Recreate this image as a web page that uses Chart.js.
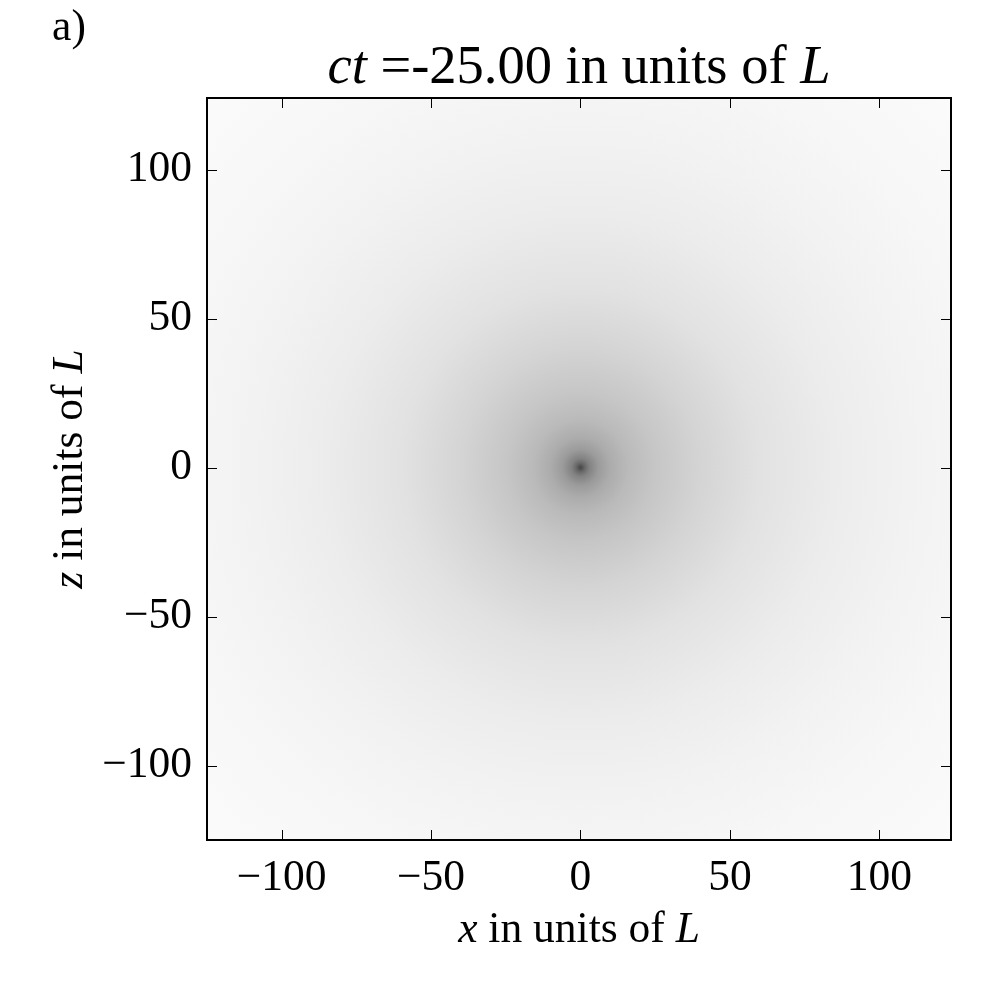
<!DOCTYPE html>
<html>
<head>
<meta charset="utf-8">
<script src="https://cdn.jsdelivr.net/npm/chart.js@4/dist/chart.umd.min.js"></script>
<style>
  html, body { margin: 0; padding: 0; background: #fff; }
</style>
</head>
<body>
<canvas id="field" width="1000" height="1000"></canvas>
<script>
// axis range and tick positions (units of L)
const axisMin = -125;
const axisMax = 124;
const tickValues = [-100, -50, 0, 50, 100];

// radial profile of the field:
// distance from the origin (units of L) and the gray level seen there
const ringRadius = [0, 0.7, 1.5, 3, 6, 10, 16, 25, 40, 60, 85, 110, 140, 180];
const ringGray   = [70, 85, 105, 130, 155, 172, 186, 198, 212, 226, 236, 242, 247, 251];
const fieldCenter = [0, 0];

const serif = '"Liberation Serif", "Times New Roman", serif';
const tickSize = 43.5;
const titleSize = 54.5;

// draw a line made of several font runs (regular / italic)
function drawRuns(ctx, runs, x, y, size) {
  let total = 0;
  runs.forEach(r => {
    ctx.font = (r[1] ? 'italic ' : '') + size + 'px ' + serif;
    total += ctx.measureText(r[0]).width;
  });
  let cx = x - total / 2;
  ctx.textAlign = 'left';
  ctx.textBaseline = 'alphabetic';
  runs.forEach(r => {
    ctx.font = (r[1] ? 'italic ' : '') + size + 'px ' + serif;
    ctx.fillText(r[0], cx, y);
    cx += ctx.measureText(r[0]).width;
  });
}

const fieldPlugin = {
  id: 'field',
  beforeDatasetsDraw(chart) {
    const { ctx, chartArea: a, scales } = chart;
    const cx = scales.x.getPixelForValue(fieldCenter[0]);
    const cy = scales.y.getPixelForValue(fieldCenter[1]);
    const rMax = ringRadius[ringRadius.length - 1];
    const rPx = scales.x.getPixelForValue(fieldCenter[0] + rMax) - cx;
    const g = ctx.createRadialGradient(cx, cy, 0, cx, cy, rPx);
    ringRadius.forEach((r, i) => {
      const v = ringGray[i];
      g.addColorStop(r / rMax, `rgb(${v},${v},${v})`);
    });
    ctx.save();
    ctx.beginPath();
    ctx.rect(a.left, a.top, a.right - a.left, a.bottom - a.top);
    ctx.clip();
    ctx.fillStyle = g;
    ctx.fillRect(a.left, a.top, a.right - a.left, a.bottom - a.top);
    ctx.restore();
  }
};

const framePlugin = {
  id: 'frame',
  afterDraw(chart) {
    const { ctx, chartArea: a, scales } = chart;
    ctx.save();
    // inward ticks on all four sides
    ctx.strokeStyle = '#000';
    ctx.lineWidth = 1;
    ctx.beginPath();
    tickValues.forEach(v => {
      const px = Math.round(scales.x.getPixelForValue(v)) + 0.5;
      ctx.moveTo(px, a.bottom); ctx.lineTo(px, a.bottom - 10);
      ctx.moveTo(px, a.top); ctx.lineTo(px, a.top + 10);
      const py = Math.round(scales.y.getPixelForValue(v)) + 0.5;
      ctx.moveTo(a.left, py); ctx.lineTo(a.left + 10, py);
      ctx.moveTo(a.right, py); ctx.lineTo(a.right - 10, py);
    });
    ctx.stroke();
    // frame
    ctx.lineWidth = 2;
    ctx.strokeRect(a.left, a.top, a.right - a.left, a.bottom - a.top);

    ctx.fillStyle = '#000';
    // panel letter
    drawRuns(ctx, [['a)', false]], 69, 40, tickSize);
    // title
    drawRuns(ctx, [['ct', true], [' =-25.00 in units of ', false], ['L', true]],
      (a.left + a.right) / 2, 83, titleSize);
    // x axis title
    drawRuns(ctx, [['x', true], [' in units of ', false], ['L', true]],
      (a.left + a.right) / 2, 942, tickSize);
    // y axis title
    ctx.translate(82, (a.top + a.bottom) / 2);
    ctx.rotate(-Math.PI / 2);
    drawRuns(ctx, [['z', true], [' in units of ', false], ['L', true]], 0, 0, tickSize);
    ctx.restore();
  }
};

const tickLabel = v => (v < 0 ? '\u2212' + Math.abs(v) : String(v));

function axis(fit) {
  return {
    type: 'linear',
    min: axisMin,
    max: axisMax,
    grid: { display: false, drawTicks: false },
    border: { display: false },
    afterBuildTicks: s => { s.ticks = tickValues.map(v => ({ value: v })); },
    afterFit: fit,
    ticks: {
      color: '#000',
      font: { family: serif, size: tickSize },
      callback: tickLabel,
      maxRotation: 0,
      autoSkip: false
    }
  };
}

const xAxis = axis(s => { s.height = 160; });
xAxis.ticks.padding = 12;
const yAxis = axis(s => { s.width = 207; });
yAxis.ticks.padding = 15;

new Chart(document.getElementById('field'), {
  type: 'scatter',
  data: { datasets: [{ data: [] }] },
  options: {
    responsive: false,
    animation: false,
    layout: { padding: { top: 98, right: 49, left: 0, bottom: 0 } },
    plugins: { legend: { display: false }, tooltip: { enabled: false } },
    scales: { x: xAxis, y: yAxis }
  },
  plugins: [fieldPlugin, framePlugin]
});
</script>
</body>
</html>
